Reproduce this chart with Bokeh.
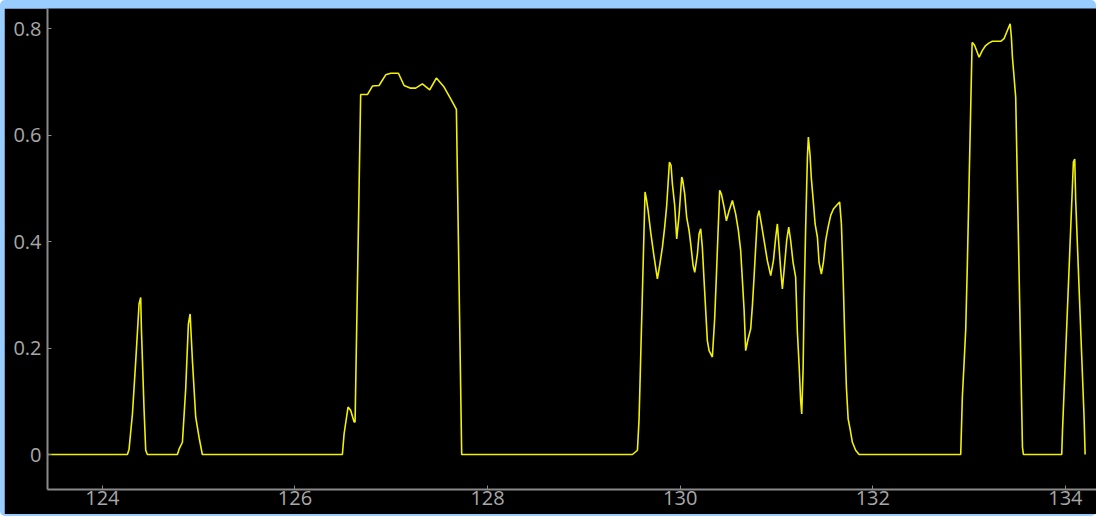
from bokeh.plotting import figure
from bokeh.layouts import column
from bokeh.models import Range1d, FixedTicker
from bokeh.embed import file_html
from bokeh.resources import INLINE

# ---- data (time in s, level) ----
start_t = [123.40]
start_v = [0.0]

burst_a_t = [124.260, 124.277, 124.312, 124.346, 124.381, 124.398, 124.405, 124.433, 124.450, 124.467]
burst_a_v = [0.0, 0.010, 0.076, 0.175, 0.283, 0.295, 0.236, 0.083, 0.008, 0.0]

burst_b_t = [124.779, 124.796, 124.831, 124.865, 124.893, 124.911, 124.935, 124.969, 125.004, 125.038]
burst_b_v = [0.0, 0.010, 0.023, 0.123, 0.245, 0.264, 0.176, 0.070, 0.032, 0.0]

burst_c_t = [126.492, 126.510, 126.551, 126.578, 126.614, 126.624, 126.682, 126.752, 126.804,
             126.873, 126.942, 126.994, 127.074, 127.133, 127.201, 127.253, 127.323, 127.399,
             127.468, 127.548, 127.617, 127.676, 127.731]
burst_c_v = [0.0, 0.039, 0.089, 0.083, 0.061, 0.061, 0.676, 0.676, 0.692,
             0.693, 0.713, 0.716, 0.716, 0.693, 0.688, 0.688, 0.696, 0.685,
             0.707, 0.690, 0.668, 0.648, 0.0]

burst_d_t = [129.504, 129.556, 129.573, 129.635, 129.649, 129.667, 129.694, 129.729, 129.763,
             129.787, 129.815, 129.839, 129.860, 129.874, 129.888, 129.905, 129.919, 129.943,
             129.964, 129.988, 130.005, 130.016, 130.026, 130.047, 130.067, 130.092, 130.109,
             130.134, 130.151, 130.179, 130.196, 130.213, 130.230, 130.248, 130.265, 130.282,
             130.300, 130.334, 130.358, 130.376, 130.393, 130.410, 130.428, 130.456, 130.480,
             130.508, 130.542, 130.576, 130.604, 130.628, 130.646, 130.664, 130.680, 130.705,
             130.732, 130.750, 130.767, 130.784, 130.802, 130.819, 130.843, 130.871, 130.905,
             130.940, 130.968, 130.992, 131.009, 131.027, 131.044, 131.061, 131.079, 131.106,
             131.127, 131.147, 131.172, 131.199, 131.217, 131.235, 131.251, 131.262, 131.276,
             131.287, 131.303, 131.321, 131.331, 131.349, 131.362, 131.383, 131.401, 131.425,
             131.442, 131.466, 131.487, 131.511, 131.536, 131.563, 131.591, 131.625, 131.656,
             131.674, 131.692, 131.708, 131.726, 131.744, 131.764, 131.788, 131.822, 131.858]
burst_d_v = [0.0, 0.008, 0.067, 0.493, 0.480, 0.458, 0.417, 0.371, 0.330,
             0.355, 0.389, 0.427, 0.468, 0.508, 0.549, 0.543, 0.508, 0.468,
             0.405, 0.449, 0.493, 0.521, 0.515, 0.489, 0.446, 0.421, 0.396,
             0.355, 0.342, 0.377, 0.414, 0.424, 0.389, 0.327, 0.270, 0.214,
             0.195, 0.183, 0.255, 0.336, 0.417, 0.496, 0.489, 0.464, 0.439,
             0.458, 0.477, 0.452, 0.421, 0.383, 0.327, 0.270, 0.195, 0.217,
             0.236, 0.280, 0.333, 0.389, 0.446, 0.458, 0.433, 0.402, 0.364,
             0.336, 0.364, 0.408, 0.433, 0.389, 0.346, 0.311, 0.346, 0.402,
             0.427, 0.402, 0.361, 0.333, 0.230, 0.167, 0.101, 0.076, 0.158,
             0.292, 0.427, 0.558, 0.596, 0.561, 0.518, 0.474, 0.433, 0.408,
             0.361, 0.339, 0.361, 0.402, 0.427, 0.449, 0.461, 0.468, 0.474,
             0.433, 0.333, 0.226, 0.126, 0.067, 0.048, 0.023, 0.008, 0.0]

burst_e_t = [132.913, 132.930, 132.948, 132.965, 132.982, 133.031, 133.034, 133.058, 133.104,
             133.138, 133.172, 133.208, 133.242, 133.328, 133.363, 133.390, 133.408, 133.426,
             133.439, 133.450, 133.467, 133.484, 133.554, 133.564]
burst_e_v = [0.0, 0.108, 0.172, 0.235, 0.358, 0.771, 0.774, 0.768, 0.746,
             0.759, 0.768, 0.773, 0.776, 0.776, 0.781, 0.793, 0.801, 0.809,
             0.784, 0.746, 0.709, 0.671, 0.014, 0.0]

burst_f_t = [133.962, 133.970, 134.083, 134.097, 134.107, 134.194, 134.205]
burst_f_v = [0.0, 0.045, 0.549, 0.555, 0.477, 0.070, 0.0]

x_ticks = [124, 126, 128, 130, 132, 134]
y_ticks = [0, 0.2, 0.4, 0.6, 0.8]
y_tick_labels = ["0", "0.2", "0.4", "0.6", "0.8"]

t = start_t + burst_a_t + burst_b_t + burst_c_t + burst_d_t + burst_e_t + burst_f_t
v = start_v + burst_a_v + burst_b_v + burst_c_v + burst_d_v + burst_e_v + burst_f_v

p = figure(width=1092, height=506, output_backend="svg", toolbar_location=None,
           x_range=Range1d(123.43, 134.323), y_range=Range1d(-0.0657, 0.8376),
           background_fill_color="black", border_fill_color="black",
           min_border_left=43, min_border_right=0, min_border_top=0, min_border_bottom=25)
p.outline_line_color = None
p.grid.visible = False
p.margin = (8, 0, 2, 4)

p.line(t, v, line_color="#f2f200", line_width=1.6)

for ax in (p.xaxis[0], p.yaxis[0]):
    ax.axis_line_color = "#8a8a8a"
    ax.axis_line_width = 2
    ax.major_tick_line_color = "#8a8a8a"
    ax.major_tick_line_width = 1
    ax.major_tick_in = 4
    ax.major_tick_out = 0
    ax.minor_tick_line_color = None
    ax.major_label_text_font = "Open Sans"
    ax.major_label_text_font_size = "20px"
    ax.major_label_text_color = "#a8a8a8"

p.xaxis.ticker = FixedTicker(ticks=x_ticks)
p.yaxis.ticker = FixedTicker(ticks=y_ticks)
p.yaxis.major_label_overrides = dict(zip(y_ticks, y_tick_labels))
p.yaxis.major_label_standoff = 6
p.xaxis.major_label_standoff = 1

layout = column(p, styles={"background-color": "#99ccff", "border-radius": "5px"})

open("out.html", "w").write(file_html(layout, INLINE))
